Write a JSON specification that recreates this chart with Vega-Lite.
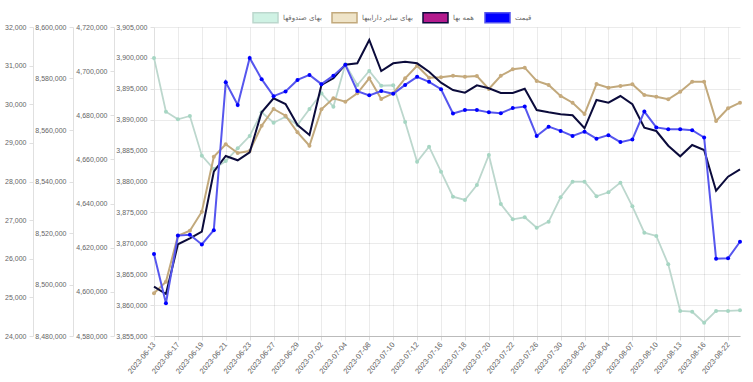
{
  "$schema": "https://vega.github.io/schema/vega-lite/v6.json",
  "width": 586,
  "height": 309,
  "autosize": {"type": "none"},
  "padding": {"left": 154, "top": 27, "right": 13, "bottom": 46},
  "background": "white",
  "data": {"values": [
    {"d": "2023-06-13", "g": 3900000, "t": 4599350, "n": 8499150, "p": 26120},
    {"d": "2023-06-14", "g": 3891290, "t": 4604600, "n": 8496310, "p": 24850},
    {"d": "2023-06-17", "g": 3890060, "t": 4625440, "n": 8515610, "p": 26600},
    {"d": "2023-06-18", "g": 3890600, "t": 4627710, "n": 8517940, "p": 26620},
    {"d": "2023-06-19", "g": 3884180, "t": 4636320, "n": 8520500, "p": 26370},
    {"d": "2023-06-20", "g": 3882020, "t": 4661240, "n": 8543810, "p": 26740},
    {"d": "2023-06-21", "g": 3883320, "t": 4666850, "n": 8549900, "p": 30570},
    {"d": "2023-06-22", "g": 3885370, "t": 4662910, "n": 8548230, "p": 29980},
    {"d": "2023-06-23", "g": 3887360, "t": 4663820, "n": 8551340, "p": 31200},
    {"d": "2023-06-26", "g": 3891200, "t": 4675280, "n": 8566870, "p": 30650},
    {"d": "2023-06-27", "g": 3889510, "t": 4682850, "n": 8572310, "p": 30210},
    {"d": "2023-06-28", "g": 3890490, "t": 4679810, "n": 8570100, "p": 30330},
    {"d": "2023-06-29", "g": 3889140, "t": 4672290, "n": 8561940, "p": 30630},
    {"d": "2023-07-01", "g": 3891730, "t": 4666220, "n": 8558060, "p": 30760},
    {"d": "2023-07-02", "g": 3894270, "t": 4682710, "n": 8577480, "p": 30520},
    {"d": "2023-07-03", "g": 3892100, "t": 4687700, "n": 8580080, "p": 30740},
    {"d": "2023-07-04", "g": 3898960, "t": 4686150, "n": 8585360, "p": 31020},
    {"d": "2023-07-05", "g": 3895610, "t": 4689960, "n": 8585900, "p": 30340},
    {"d": "2023-07-08", "g": 3897880, "t": 4696760, "n": 8594950, "p": 30230},
    {"d": "2023-07-09", "g": 3895500, "t": 4687380, "n": 8582910, "p": 30340},
    {"d": "2023-07-10", "g": 3895570, "t": 4689960, "n": 8585900, "p": 30270},
    {"d": "2023-07-11", "g": 3889630, "t": 4696760, "n": 8586520, "p": 30500},
    {"d": "2023-07-12", "g": 3883200, "t": 4702470, "n": 8585900, "p": 30710},
    {"d": "2023-07-15", "g": 3885630, "t": 4697030, "n": 8582640, "p": 30580},
    {"d": "2023-07-16", "g": 3881590, "t": 4697210, "n": 8578370, "p": 30390},
    {"d": "2023-07-17", "g": 3877540, "t": 4697930, "n": 8575530, "p": 29760},
    {"d": "2023-07-18", "g": 3877010, "t": 4697480, "n": 8574490, "p": 29850},
    {"d": "2023-07-19", "g": 3879430, "t": 4697800, "n": 8577360, "p": 29850},
    {"d": "2023-07-20", "g": 3884290, "t": 4691910, "n": 8576190, "p": 29790},
    {"d": "2023-07-21", "g": 3876360, "t": 4697930, "n": 8574370, "p": 29770},
    {"d": "2023-07-22", "g": 3873880, "t": 4700830, "n": 8574370, "p": 29900},
    {"d": "2023-07-25", "g": 3874210, "t": 4701560, "n": 8576040, "p": 29940},
    {"d": "2023-07-26", "g": 3872520, "t": 4695530, "n": 8567770, "p": 29180},
    {"d": "2023-07-29", "g": 3873500, "t": 4693720, "n": 8566870, "p": 29420},
    {"d": "2023-07-30", "g": 3877440, "t": 4688740, "n": 8566100, "p": 29310},
    {"d": "2023-08-01", "g": 3879970, "t": 4685700, "n": 8565710, "p": 29180},
    {"d": "2023-08-02", "g": 3879970, "t": 4680580, "n": 8560660, "p": 29290},
    {"d": "2023-08-03", "g": 3877610, "t": 4694170, "n": 8571650, "p": 29110},
    {"d": "2023-08-04", "g": 3878250, "t": 4692500, "n": 8570600, "p": 29200},
    {"d": "2023-08-06", "g": 3879810, "t": 4693270, "n": 8573200, "p": 29020},
    {"d": "2023-08-07", "g": 3875990, "t": 4694040, "n": 8569980, "p": 29090},
    {"d": "2023-08-08", "g": 3871720, "t": 4689190, "n": 8560890, "p": 29810},
    {"d": "2023-08-10", "g": 3871180, "t": 4688420, "n": 8559610, "p": 29400},
    {"d": "2023-08-12", "g": 3866600, "t": 4687240, "n": 8553900, "p": 29350},
    {"d": "2023-08-13", "g": 3859050, "t": 4690690, "n": 8549790, "p": 29350},
    {"d": "2023-08-15", "g": 3858930, "t": 4695220, "n": 8554180, "p": 29330},
    {"d": "2023-08-16", "g": 3857150, "t": 4695220, "n": 8552230, "p": 29140},
    {"d": "2023-08-20", "g": 3859050, "t": 4677410, "n": 8536430, "p": 26000},
    {"d": "2023-08-22", "g": 3859050, "t": 4683160, "n": 8541860, "p": 26010},
    {"d": "2023-08-23", "g": 3859160, "t": 4685700, "n": 8544740, "p": 26440}
  ]},
  "encoding": {
    "x": {
      "field": "d", "type": "ordinal", "sort": null,
      "scale": {"type": "point", "padding": 0},
      "axis": {
        "title": null,
        "values": ["2023-06-13","2023-06-17","2023-06-19","2023-06-21","2023-06-23","2023-06-27","2023-06-29","2023-07-02","2023-07-04","2023-07-08","2023-07-10","2023-07-12","2023-07-16","2023-07-18","2023-07-20","2023-07-22","2023-07-26","2023-07-30","2023-08-02","2023-08-04","2023-08-07","2023-08-10","2023-08-13","2023-08-16","2023-08-22"],
        "labelAngle": -50,
        "labelFontSize": 7.5,
        "labelColor": "#666666",
        "labelOverlap": false,
        "grid": true,
        "domainColor": "#bbbbbb",
        "tickColor": "#dddddd",
        "tickSize": 4,
        "labelPadding": 3
      }
    }
  },
  "layer": [
    {
      "encoding": {
        "y": {"field": "g", "type": "quantitative",
          "scale": {"domain": [3855000, 3905000], "nice": false, "zero": false},
          "axis": {"orient": "left", "offset": 0, "title": null, "format": ",d", "labelColor": "#666666",
            "encode": {"labels": {"update": {"fill": {"value": "#666666"}}}},
            "values": [3855000,3860000,3865000,3870000,3875000,3880000,3885000,3890000,3895000,3900000,3905000]}}
      },
      "layer": [
        {"mark": {"type": "line", "strokeWidth": 1.8},
         "encoding": {"color": {"datum": "بهای صندوقها",
           "scale": {"domain": ["بهای صندوقها", "بهای سایر داراییها", "همه بها", "قیمت"],
                     "range": ["#bcd7cd", "#c2a97c", "#0b0b3b", "#5656ee"]},
           "legend": {
             "title": null, "orient": "none", "direction": "horizontal",
             "legendX": 98, "legendY": -23,
             "symbolType": "M-1,-0.4H1V0.4H-1Z", "symbolSize": 625,
             "labelFont": "DejaVu Sans", "labelFontSize": 7, "labelColor": "#666666",
             "labelOffset": 4, "columnPadding": 7,
             "encode": {"symbols": {"update": {
               "fill": {"signal": "['#cff2e4','#efe4c8','#b31b8e','#0000ff'][indexof(['بهای صندوقها','بهای سایر داراییها','همه بها','قیمت'], datum.value)]"},
               "stroke": {"signal": "['#9fd3bf','#c9b283','#0b0b3b','#6a6aff'][indexof(['بهای صندوقها','بهای سایر داراییها','همه بها','قیمت'], datum.value)]"},
               "strokeWidth": {"value": 1.5},
               "opacity": {"value": 1},
               "fillOpacity": {"value": 1}
             }}}
           }}}},
        {"mark": {"type": "point", "filled": true, "size": 16, "color": "#a6d6c3", "opacity": 1}}
      ]
    },
    {
      "encoding": {
        "y": {"field": "t", "type": "quantitative",
          "scale": {"domain": [4580000, 4720000], "nice": false, "zero": false},
          "axis": {"orient": "left", "offset": 40, "title": null, "format": ",d", "labelColor": "#666666",
            "encode": {"labels": {"update": {"fill": {"value": "#666666"}}}},
            "values": [4580000,4600000,4620000,4640000,4660000,4680000,4700000,4720000]}}
      },
      "layer": [
        {"mark": {"type": "line", "strokeWidth": 2}, "encoding": {"color": {"datum": "بهای سایر داراییها"}}},
        {"mark": {"type": "point", "filled": true, "size": 16, "color": "#c6aa7c", "opacity": 1}}
      ]
    },
    {
      "encoding": {
        "y": {"field": "n", "type": "quantitative",
          "scale": {"domain": [8480000, 8600000], "nice": false, "zero": false},
          "axis": {"orient": "left", "offset": 81, "title": null, "format": ",d", "labelColor": "#666666",
            "encode": {"labels": {"update": {"fill": {"value": "#666666"}}}},
            "values": [8480000,8500000,8520000,8540000,8560000,8580000,8600000]}}
      },
      "layer": [
        {"mark": {"type": "line", "strokeWidth": 2}, "encoding": {"color": {"datum": "همه بها"}}}
      ]
    },
    {
      "encoding": {
        "y": {"field": "p", "type": "quantitative",
          "scale": {"domain": [24000, 32000], "nice": false, "zero": false},
          "axis": {"orient": "left", "offset": 121, "title": null, "format": ",d", "labelColor": "#666666",
            "encode": {"labels": {"update": {"fill": {"value": "#666666"}}}},
            "values": [24000,25000,26000,27000,28000,29000,30000,31000,32000]}}
      },
      "layer": [
        {"mark": {"type": "line", "strokeWidth": 2}, "encoding": {"color": {"datum": "قیمت"}}},
        {"mark": {"type": "point", "filled": true, "size": 16, "color": "#0000ff", "opacity": 1}}
      ]
    }
  ],
  "resolve": {"scale": {"y": "independent"}},
  "config": {
    "view": {"stroke": null},
    "axis": {
      "labelFont": "Liberation Sans",
      "labelFontSize": 7,
      "labelColor": "#666666",
      "gridColor": "#000000",
      "gridOpacity": 0.08,
      "domainColor": "#e0e0e0",
      "tickColor": "#e0e0e0",
      "tickSize": 4,
      "labelPadding": 3,
      "labelOverlap": false
    }
  }
}
